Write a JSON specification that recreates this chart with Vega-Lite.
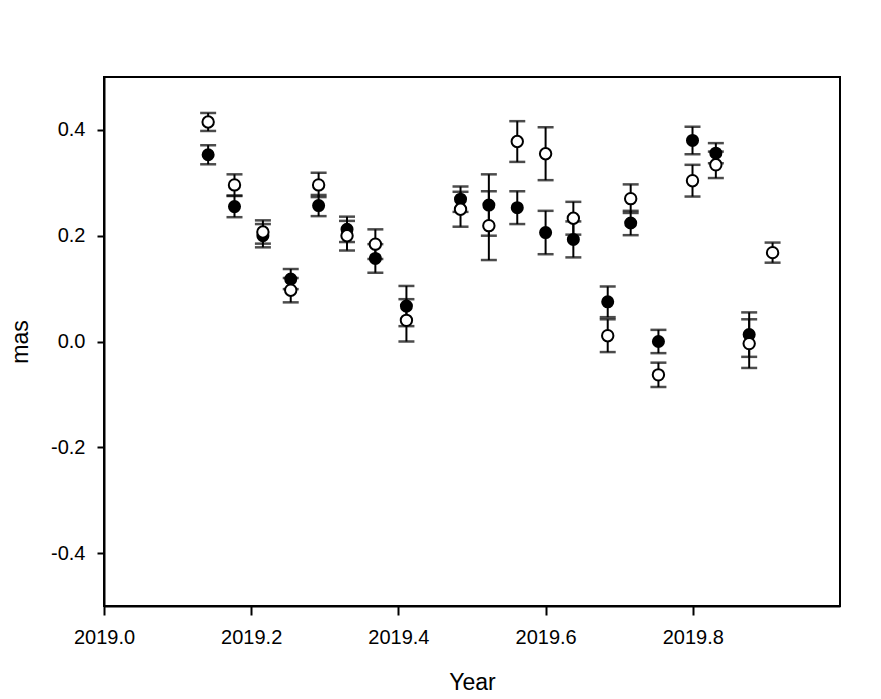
{
  "$schema": "https://vega.github.io/schema/vega-lite/v6.json",
  "width": 736,
  "height": 529,
  "autosize": "none",
  "padding": {"left": 104, "top": 77, "right": 41, "bottom": 93},
  "background": "white",
  "config": {
    "view": {"stroke": "black", "strokeWidth": 2},
    "font": "Liberation Sans",
    "axis": {
      "grid": false,
      "labelFlush": false,
      "domainColor": "black",
      "domainWidth": 2,
      "tickColor": "black",
      "tickWidth": 2,
      "labelColor": "black",
      "titleColor": "black",
      "labelFont": "Liberation Sans",
      "titleFont": "Liberation Sans",
      "labelFontSize": 20,
      "titleFontSize": 23,
      "titleFontWeight": "normal"
    }
  },
  "data": {
    "values": [
      {"year": 2019.1415, "v": 0.353, "e": 0.018, "s": "filled"},
      {"year": 2019.1415, "v": 0.415, "e": 0.017, "s": "open"},
      {"year": 2019.1773, "v": 0.255, "e": 0.02, "s": "filled"},
      {"year": 2019.1773, "v": 0.296, "e": 0.02, "s": "open"},
      {"year": 2019.2159, "v": 0.2, "e": 0.022, "s": "filled"},
      {"year": 2019.2159, "v": 0.207, "e": 0.022, "s": "open"},
      {"year": 2019.2537, "v": 0.118, "e": 0.019, "s": "filled"},
      {"year": 2019.2537, "v": 0.097, "e": 0.023, "s": "open"},
      {"year": 2019.2916, "v": 0.257, "e": 0.02, "s": "filled"},
      {"year": 2019.2916, "v": 0.296, "e": 0.023, "s": "open"},
      {"year": 2019.3302, "v": 0.212, "e": 0.024, "s": "filled"},
      {"year": 2019.3302, "v": 0.2, "e": 0.028, "s": "open"},
      {"year": 2019.3687, "v": 0.157, "e": 0.027, "s": "filled"},
      {"year": 2019.3687, "v": 0.184, "e": 0.028, "s": "open"},
      {"year": 2019.4109, "v": 0.067, "e": 0.038, "s": "filled"},
      {"year": 2019.4109, "v": 0.04, "e": 0.04, "s": "open"},
      {"year": 2019.4844, "v": 0.269, "e": 0.024, "s": "filled"},
      {"year": 2019.4844, "v": 0.25, "e": 0.033, "s": "open"},
      {"year": 2019.5229, "v": 0.258, "e": 0.058, "s": "filled"},
      {"year": 2019.5229, "v": 0.219, "e": 0.065, "s": "open"},
      {"year": 2019.5615, "v": 0.253, "e": 0.031, "s": "filled"},
      {"year": 2019.5615, "v": 0.378, "e": 0.0385, "s": "open"},
      {"year": 2019.6, "v": 0.206, "e": 0.041, "s": "filled"},
      {"year": 2019.6, "v": 0.355, "e": 0.05, "s": "open"},
      {"year": 2019.6377, "v": 0.193, "e": 0.034, "s": "filled"},
      {"year": 2019.6377, "v": 0.233, "e": 0.031, "s": "open"},
      {"year": 2019.6844, "v": 0.075, "e": 0.029, "s": "filled"},
      {"year": 2019.6844, "v": 0.011, "e": 0.031, "s": "open"},
      {"year": 2019.7156, "v": 0.224, "e": 0.023, "s": "filled"},
      {"year": 2019.7156, "v": 0.27, "e": 0.027, "s": "open"},
      {"year": 2019.7533, "v": 0.0, "e": 0.022, "s": "filled"},
      {"year": 2019.7533, "v": -0.063, "e": 0.023, "s": "open"},
      {"year": 2019.7996, "v": 0.38, "e": 0.026, "s": "filled"},
      {"year": 2019.7996, "v": 0.304, "e": 0.03, "s": "open"},
      {"year": 2019.8313, "v": 0.356, "e": 0.019, "s": "filled"},
      {"year": 2019.8313, "v": 0.334, "e": 0.025, "s": "open"},
      {"year": 2019.8766, "v": 0.013, "e": 0.042, "s": "filled"},
      {"year": 2019.8766, "v": -0.004, "e": 0.046, "s": "open"},
      {"year": 2019.9084, "v": 0.168, "e": 0.019, "s": "open"}
    ]
  },
  "encoding": {
    "x": {
      "field": "year",
      "type": "quantitative",
      "scale": {"domain": [2019, 2020], "nice": false, "zero": false},
      "axis": {"title": "Year", "values": [2019, 2019.2, 2019.4, 2019.6, 2019.8], "format": ".1f", "tickSize": 9, "labelPadding": 12, "titlePadding": 24}
    },
    "y": {
      "field": "v",
      "type": "quantitative",
      "scale": {"domain": [-0.5, 0.5], "nice": false, "zero": false},
      "axis": {
        "title": "mas",
        "values": [-0.4, -0.2, 0, 0.2, 0.4],
        "labelExpr": "datum.value < 0 ? '-' + format(-datum.value, '.1f') : format(datum.value, '.1f')",
        "tickSize": 7,
        "labelPadding": 12,
        "titlePadding": 18
      }
    }
  },
  "layer": [
    {
      "mark": {"type": "errorbar", "color": "black", "thickness": 2.5, "ticks": {"size": 16, "thickness": 2.5, "color": "black"}, "rule": {"strokeWidth": 2}},
      "encoding": {"yError": {"field": "e"}}
    },
    {
      "transform": [{"filter": {"field": "s", "equal": "filled"}}],
      "mark": {"type": "point", "shape": "circle", "filled": true, "color": "black", "size": 170, "opacity": 1}
    },
    {
      "transform": [{"filter": {"field": "s", "equal": "open"}}],
      "mark": {"type": "point", "shape": "circle", "filled": true, "fill": "white", "stroke": "black", "strokeWidth": 2, "size": 130, "opacity": 1}
    }
  ]
}
